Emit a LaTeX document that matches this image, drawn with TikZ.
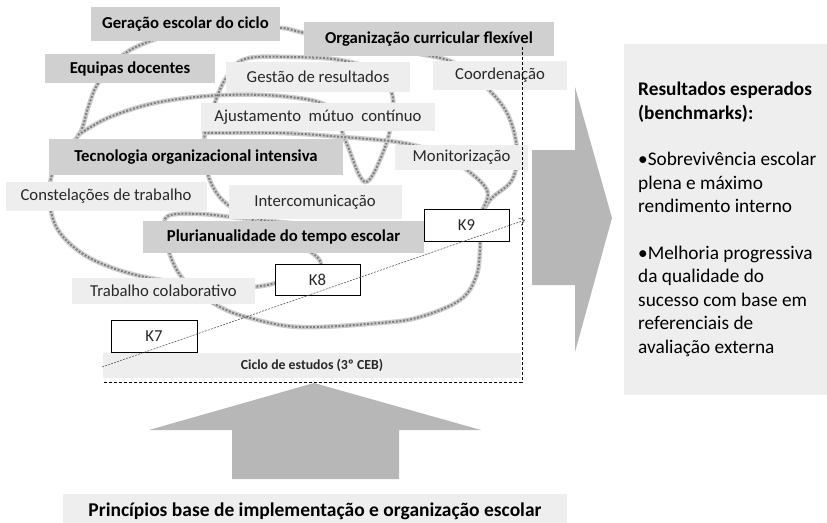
\documentclass[tikz,border=0pt]{standalone}
\usepackage{fontspec}
\setmainfont{Carlito}
\usetikzlibrary{arrows.meta}
\definecolor{darkbox}{RGB}{208,208,208}
\definecolor{lightbox}{RGB}{238,238,238}
\definecolor{arrowgray}{RGB}{183,183,183}
\definecolor{txt}{RGB}{40,40,40}
\definecolor{beadgray}{RGB}{128,128,128}
\definecolor{halogray}{RGB}{205,205,205}
\begin{document}
\begin{tikzpicture}[x=1pt,y=-1pt,
  dbox/.style={fill=darkbox, inner sep=0pt, font=\fontsize{16.7}{20}\selectfont\bfseries, text=black},
  lbox/.style={fill=lightbox, inner sep=0pt, font=\fontsize{16.7}{20}\selectfont, text=txt},
  kbox/.style={draw=black, fill=white, line width=0.9pt, inner sep=0pt, font=\fontsize{16.7}{20}\selectfont, text=txt},
  scrib/.style={draw=beadgray, line width=2pt, dash pattern=on 2pt off 1.6pt,
     preaction={draw=halogray, line width=4.6pt, solid, line cap=round}},
  bigarrow/.style={fill=arrowgray, draw=none},
  frame/.style={draw=black, line width=0.8pt, dash pattern=on 3pt off 2pt},
  trend/.style={draw=gray!70!black, line width=0.6pt, dash pattern=on 2pt off 1.2pt,
     -{Straight Barb[length=5pt,width=8pt]}}]
\useasboundingbox (0,0) rectangle (827,522);

% background scribbles
\draw[scrib] plot[smooth, tension=0.6] coordinates {(276,283) (250,287) (200,284) (150,278) (110,267) (80,252) (58,230) (50,205) (51,178) (62,155) (80,133) (88,108) (97,85) (115,62) (138,46) (180,33) (240,27) (282,28) (305,33) (360,42) (415,53) (455,63) (487,88) (508,115) (517,150) (512,180) (490,200) (480,222) (480,250) (476,277) (460,300) (420,317) (380,323) (300,327) (250,318) (220,307) (195,290) (180,275) (170,255) (165,232) (168,216) (200,214) (240,218) (280,222) (320,226)};
\draw[scrib] plot[smooth, tension=0.6] coordinates {(78,135) (110,117) (160,102) (225,95) (290,97) (330,108) (346,142) (365,182) (384,150) (392,118) (392,94) (378,72) (340,60) (290,57) (245,59) (226,78) (214,105) (205,133) (205,160) (212,185) (228,205) (262,225) (300,245) (318,258) (321,266)};
\draw[scrib] plot[smooth, tension=0.6] coordinates {(204,133) (280,133) (343,137) (397,142) (430,150) (460,165) (487,190) (482,212) (480,228)};

% labels
\node[dbox, minimum width=189, minimum height=34] (gen) at (185.5,24) {Geração escolar do ciclo};
\node[dbox, minimum width=250, minimum height=34] (org) at (429,39) {Organização curricular flexível};
\node[dbox, minimum width=170, minimum height=29] (equ) at (130,68.5) {Equipas docentes};
\node[lbox, minimum width=184, minimum height=30] (ges) at (318,77) {Gestão de resultados};
\node[lbox, minimum width=134, minimum height=29] (coo) at (500,75.5) {Coordenação};
\node[lbox, minimum width=234, minimum height=28] (aju) at (318,117) {Ajustamento~ mútuo~ contínuo};
\node[dbox, minimum width=294, minimum height=36] (tec) at (196,157) {Tecnologia organizacional intensiva};
\node[lbox, minimum width=133, minimum height=25] (mon) at (461.5,157.5) {Monitorização};
\node[lbox, minimum width=201, minimum height=29] (con) at (106,196.5) {Constelações de trabalho};
\node[lbox, minimum width=173, minimum height=34] (int) at (315,202) {Intercomunicação};
\node[dbox, minimum width=281, minimum height=32] (plu) at (283.5,237) {Plurianualidade do tempo escolar};
\node[lbox, minimum width=183, minimum height=26] (tra) at (163.5,291) {Trabalho colaborativo};
\node[lbox, minimum width=418, minimum height=25, font=\fontsize{13.8}{16}\selectfont\bfseries] (cic) at (312,365.5) {Ciclo de estudos (3º CEB)};

\node[kbox, minimum width=85, minimum height=32] (k9) at (466.5,225) {K9};
\node[kbox, minimum width=85, minimum height=31] (k8) at (317.5,279.5) {K8};
\node[kbox, minimum width=86, minimum height=32] (k7) at (154,336) {K7};

% dashed frame
\coordinate (fa) at (522,47);
\coordinate (fb) at (522,382);
\coordinate (fc) at (103,382);
\draw[frame] (fa) -- (fb) -- (fc);

% trend arrow
\coordinate (ts) at (102,367);
\coordinate (te) at (525,220);
\draw[trend] (ts) -- (te);

% big right arrow
\path[bigarrow] (532,150) -- (575,150) -- (575,87) -- (612,218) -- (575,352) -- (575,285) -- (532,285) -- cycle;

% up arrow
\path[bigarrow] (314,383) -- (481,430) -- (399,430) -- (399,479) -- (232,479) -- (232,430) -- (149,430) -- cycle;

% results box
\fill[lightbox] (624,44) rectangle (827,395);
\node[anchor=north west, inner sep=0pt, align=left, text=black,
      font=\fontsize{19.3}{23.4}\selectfont] (res) at (638,82)
 {\textbf{Resultados esperados}\\\textbf{(benchmarks):}\\[23.4pt]%
  •Sobrevivência escolar\\plena e máximo\\rendimento interno\\[23.4pt]%
  •Melhoria progressiva\\da qualidade do\\sucesso com base em\\referenciais de\\avaliação externa};

% bottom label
\node[fill=lightbox, inner sep=0pt, minimum width=504, minimum height=34, anchor=north,
      font=\fontsize{19.5}{23}\selectfont\bfseries, text=black] (pri) at (315,494)
 {Princípios base de implementação e organização escolar};
\end{tikzpicture}
\end{document}
